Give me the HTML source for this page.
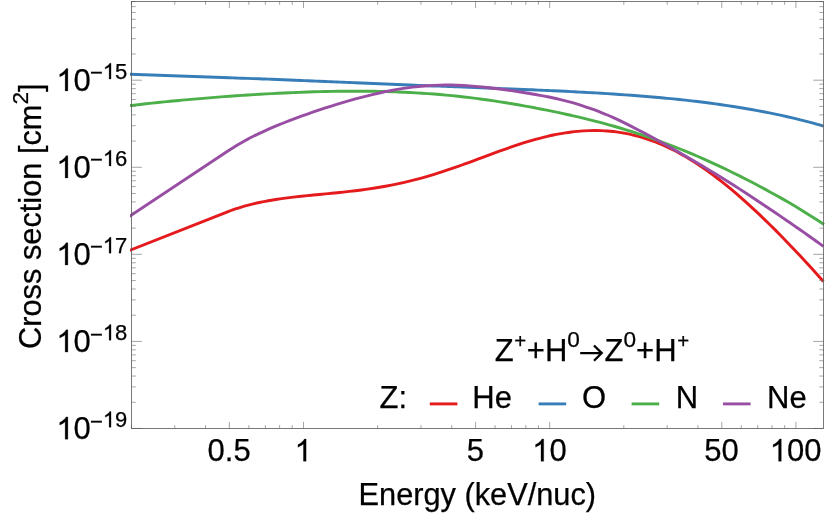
<!DOCTYPE html><html><head><title>Cross section vs Energy</title><meta charset="utf-8"><style>html,body{margin:0;padding:0;background:#fff}svg{display:block;will-change:transform}text{font-family:"Liberation Sans",sans-serif;fill:#000;stroke:#000;stroke-width:0.25px}.g1{stroke:#000;stroke-width:0.25px;vector-effect:non-scaling-stroke}</style></head><body>
<svg width="830" height="513" viewBox="0 0 830 513">
<rect width="830" height="513" fill="#fff"/>
<defs><clipPath id="c"><rect x="130.0" y="1.4" width="695.1" height="427.1"/></clipPath></defs>
<g fill="none" stroke-width="2.90" stroke-linejoin="round" clip-path="url(#c)">
<path d="M128.00 251.02L229.40 211.04 C230.40 210.69 233.40 209.62 235.40 208.96 C237.40 208.29 239.40 207.67 241.40 207.07 C243.40 206.47 245.40 205.91 247.40 205.38 C249.40 204.85 251.40 204.35 253.40 203.87 C255.40 203.40 257.40 202.95 259.40 202.53 C261.40 202.10 263.40 201.70 265.40 201.32 C267.40 200.94 269.40 200.59 271.40 200.25 C273.40 199.91 275.40 199.59 277.40 199.29 C279.40 198.98 281.40 198.70 283.40 198.42 C285.40 198.15 287.40 197.89 289.40 197.64 C291.40 197.39 293.40 197.15 295.40 196.92 C297.40 196.69 299.40 196.47 301.40 196.26 C303.40 196.04 305.40 195.84 307.40 195.64 C309.40 195.43 311.40 195.24 313.40 195.04 C315.40 194.85 317.40 194.65 319.40 194.46 C321.40 194.27 323.40 194.08 325.40 193.89 C327.40 193.70 329.40 193.50 331.40 193.31 C333.40 193.11 335.40 192.91 337.40 192.71 C339.40 192.50 341.40 192.30 343.40 192.08 C345.40 191.87 347.40 191.65 349.40 191.42 C351.40 191.19 353.40 190.96 355.40 190.71 C357.40 190.47 359.40 190.22 361.40 189.95 C363.40 189.69 365.40 189.42 367.40 189.13 C369.40 188.85 371.40 188.55 373.40 188.24 C375.40 187.93 377.40 187.61 379.40 187.28 C381.40 186.95 383.40 186.60 385.40 186.24 C387.40 185.87 389.40 185.50 391.40 185.11 C393.40 184.71 395.40 184.31 397.40 183.89 C399.40 183.46 401.40 183.03 403.40 182.57 C405.40 182.12 407.40 181.65 409.40 181.16 C411.40 180.67 413.40 180.17 415.40 179.65 C417.40 179.13 419.40 178.60 421.40 178.05 C423.40 177.50 425.40 176.93 427.40 176.35 C429.40 175.77 431.40 175.17 433.40 174.56 C435.40 173.95 437.40 173.32 439.40 172.68 C441.40 172.05 443.40 171.39 445.40 170.73 C447.40 170.06 449.40 169.39 451.40 168.70 C453.40 168.01 455.40 167.31 457.40 166.61 C459.40 165.90 461.40 165.18 463.40 164.46 C465.40 163.74 467.40 163.01 469.40 162.27 C471.40 161.54 473.40 160.80 475.40 160.06 C477.40 159.32 479.40 158.57 481.40 157.83 C483.40 157.08 485.40 156.34 487.40 155.60 C489.40 154.86 491.40 154.11 493.40 153.38 C495.40 152.64 497.40 151.91 499.40 151.19 C501.40 150.47 503.40 149.75 505.40 149.04 C507.40 148.33 509.40 147.63 511.40 146.95 C513.40 146.26 515.40 145.58 517.40 144.92 C519.40 144.26 521.40 143.61 523.40 142.98 C525.40 142.35 527.40 141.74 529.40 141.14 C531.40 140.55 533.40 139.97 535.40 139.41 C537.40 138.86 539.40 138.32 541.40 137.81 C543.40 137.29 545.40 136.80 547.40 136.33 C549.40 135.87 551.40 135.42 553.40 135.01 C555.40 134.59 557.40 134.20 559.40 133.83 C561.40 133.47 563.40 133.13 565.40 132.83 C567.40 132.52 569.40 132.24 571.40 131.99 C573.40 131.74 575.40 131.52 577.40 131.33 C579.40 131.15 581.40 130.99 583.40 130.86 C585.40 130.74 587.40 130.65 589.40 130.59 C591.40 130.53 593.40 130.51 595.40 130.52 C597.40 130.53 599.40 130.57 601.40 130.65 C603.40 130.73 605.40 130.84 607.40 131.00 C609.40 131.15 611.40 131.34 613.40 131.56 C615.40 131.79 617.40 132.05 619.40 132.35 C621.40 132.66 623.40 132.99 625.40 133.37 C627.40 133.75 629.40 134.17 631.40 134.63 C633.40 135.08 635.40 135.58 637.40 136.11 C639.40 136.65 641.40 137.23 643.40 137.84 C645.40 138.46 647.40 139.11 649.40 139.81 C651.40 140.50 653.40 141.24 655.40 142.02 C657.40 142.79 659.40 143.61 661.40 144.46 C663.40 145.32 665.40 146.22 667.40 147.15 C669.40 148.09 671.40 149.06 673.40 150.07 C675.40 151.09 677.40 152.14 679.40 153.23 C681.40 154.32 683.40 155.45 685.40 156.62 C687.40 157.78 689.40 158.99 691.40 160.22 C693.40 161.46 695.40 162.74 697.40 164.05 C699.40 165.36 701.40 166.71 703.40 168.09 C705.40 169.47 707.40 170.89 709.40 172.34 C711.40 173.78 713.40 175.27 715.40 176.78 C717.40 178.29 719.40 179.83 721.40 181.40 C723.40 182.98 725.40 184.58 727.40 186.21 C729.40 187.84 731.40 189.50 733.40 191.19 C735.40 192.88 737.40 194.59 739.40 196.33 C741.40 198.07 743.40 199.84 745.40 201.63 C747.40 203.41 749.40 205.23 751.40 207.07 C753.40 208.90 755.40 210.77 757.40 212.65 C759.40 214.53 761.40 216.43 763.40 218.36 C765.40 220.28 767.40 222.23 769.40 224.19 C771.40 226.16 773.40 228.14 775.40 230.15 C777.40 232.15 779.40 234.17 781.40 236.21 C783.40 238.25 785.40 240.31 787.40 242.39 C789.40 244.46 791.40 246.55 793.40 248.66 C795.40 250.77 797.40 252.90 799.40 255.04 C801.40 257.18 803.40 259.34 805.40 261.51 C807.40 263.68 809.40 265.87 811.40 268.08 C813.40 270.28 815.40 272.50 817.40 274.74 C819.40 276.97 822.40 280.37 823.40 281.49" stroke="#e41a1c"/>
<path d="M128.00 74.25L229.40 77.79 C230.40 77.82 233.40 77.92 235.40 77.99 C237.40 78.05 239.40 78.12 241.40 78.18 C243.40 78.25 245.40 78.32 247.40 78.39 C249.40 78.46 251.40 78.53 253.40 78.60 C255.40 78.68 257.40 78.75 259.40 78.82 C261.40 78.90 263.40 78.97 265.40 79.05 C267.40 79.13 269.40 79.20 271.40 79.28 C273.40 79.36 275.40 79.44 277.40 79.52 C279.40 79.60 281.40 79.68 283.40 79.76 C285.40 79.84 287.40 79.92 289.40 80.00 C291.40 80.08 293.40 80.16 295.40 80.24 C297.40 80.33 299.40 80.41 301.40 80.49 C303.40 80.57 305.40 80.66 307.40 80.74 C309.40 80.83 311.40 80.91 313.40 80.99 C315.40 81.08 317.40 81.16 319.40 81.25 C321.40 81.33 323.40 81.41 325.40 81.50 C327.40 81.58 329.40 81.67 331.40 81.75 C333.40 81.84 335.40 81.92 337.40 82.01 C339.40 82.09 341.40 82.18 343.40 82.26 C345.40 82.34 347.40 82.43 349.40 82.51 C351.40 82.60 353.40 82.68 355.40 82.77 C357.40 82.85 359.40 82.93 361.40 83.02 C363.40 83.10 365.40 83.18 367.40 83.27 C369.40 83.35 371.40 83.43 373.40 83.52 C375.40 83.60 377.40 83.68 379.40 83.76 C381.40 83.85 383.40 83.93 385.40 84.01 C387.40 84.09 389.40 84.17 391.40 84.26 C393.40 84.34 395.40 84.42 397.40 84.50 C399.40 84.58 401.40 84.66 403.40 84.74 C405.40 84.82 407.40 84.90 409.40 84.98 C411.40 85.06 413.40 85.14 415.40 85.22 C417.40 85.30 419.40 85.38 421.40 85.46 C423.40 85.53 425.40 85.61 427.40 85.69 C429.40 85.77 431.40 85.85 433.40 85.93 C435.40 86.00 437.40 86.08 439.40 86.16 C441.40 86.24 443.40 86.31 445.40 86.39 C447.40 86.47 449.40 86.54 451.40 86.62 C453.40 86.70 455.40 86.77 457.40 86.85 C459.40 86.93 461.40 87.01 463.40 87.08 C465.40 87.16 467.40 87.24 469.40 87.31 C471.40 87.39 473.40 87.47 475.40 87.54 C477.40 87.62 479.40 87.70 481.40 87.77 C483.40 87.85 485.40 87.93 487.40 88.01 C489.40 88.08 491.40 88.16 493.40 88.24 C495.40 88.32 497.40 88.40 499.40 88.47 C501.40 88.55 503.40 88.63 505.40 88.71 C507.40 88.79 509.40 88.87 511.40 88.95 C513.40 89.03 515.40 89.11 517.40 89.20 C519.40 89.28 521.40 89.36 523.40 89.44 C525.40 89.53 527.40 89.61 529.40 89.69 C531.40 89.78 533.40 89.86 535.40 89.95 C537.40 90.04 539.40 90.12 541.40 90.21 C543.40 90.30 545.40 90.39 547.40 90.48 C549.40 90.57 551.40 90.66 553.40 90.75 C555.40 90.85 557.40 90.94 559.40 91.03 C561.40 91.13 563.40 91.23 565.40 91.32 C567.40 91.42 569.40 91.52 571.40 91.62 C573.40 91.72 575.40 91.83 577.40 91.93 C579.40 92.04 581.40 92.14 583.40 92.25 C585.40 92.36 587.40 92.47 589.40 92.58 C591.40 92.69 593.40 92.81 595.40 92.92 C597.40 93.04 599.40 93.16 601.40 93.28 C603.40 93.40 605.40 93.52 607.40 93.65 C609.40 93.77 611.40 93.90 613.40 94.03 C615.40 94.16 617.40 94.29 619.40 94.43 C621.40 94.56 623.40 94.70 625.40 94.85 C627.40 94.99 629.40 95.13 631.40 95.28 C633.40 95.43 635.40 95.58 637.40 95.73 C639.40 95.89 641.40 96.04 643.40 96.20 C645.40 96.37 647.40 96.53 649.40 96.70 C651.40 96.87 653.40 97.04 655.40 97.21 C657.40 97.39 659.40 97.57 661.40 97.75 C663.40 97.94 665.40 98.12 667.40 98.32 C669.40 98.51 671.40 98.70 673.40 98.91 C675.40 99.11 677.40 99.31 679.40 99.52 C681.40 99.73 683.40 99.95 685.40 100.17 C687.40 100.38 689.40 100.61 691.40 100.84 C693.40 101.07 695.40 101.30 697.40 101.54 C699.40 101.78 701.40 102.03 703.40 102.28 C705.40 102.53 707.40 102.79 709.40 103.05 C711.40 103.31 713.40 103.58 715.40 103.85 C717.40 104.13 719.40 104.41 721.40 104.69 C723.40 104.98 725.40 105.27 727.40 105.57 C729.40 105.87 731.40 106.18 733.40 106.49 C735.40 106.80 737.40 107.12 739.40 107.45 C741.40 107.77 743.40 108.11 745.40 108.45 C747.40 108.79 749.40 109.13 751.40 109.49 C753.40 109.85 755.40 110.21 757.40 110.58 C759.40 110.95 761.40 111.33 763.40 111.72 C765.40 112.10 767.40 112.50 769.40 112.90 C771.40 113.30 773.40 113.71 775.40 114.13 C777.40 114.55 779.40 114.98 781.40 115.42 C783.40 115.86 785.40 116.31 787.40 116.76 C789.40 117.22 791.40 117.68 793.40 118.16 C795.40 118.63 797.40 119.12 799.40 119.61 C801.40 120.10 803.40 120.61 805.40 121.12 C807.40 121.64 809.40 122.16 811.40 122.69 C813.40 123.23 815.40 123.77 817.40 124.33 C819.40 124.89 822.40 125.75 823.40 126.03" stroke="#377eb8"/>
<path d="M128.00 105.80 C129.00 105.69 132.00 105.34 134.00 105.11 C136.00 104.88 138.00 104.66 140.00 104.44 C142.00 104.22 144.00 104.00 146.00 103.78 C148.00 103.56 150.00 103.35 152.00 103.14 C154.00 102.93 156.00 102.72 158.00 102.51 C160.00 102.31 162.00 102.11 164.00 101.91 C166.00 101.71 168.00 101.51 170.00 101.31 C172.00 101.12 174.00 100.92 176.00 100.73 C178.00 100.54 180.00 100.36 182.00 100.17 C184.00 99.99 186.00 99.81 188.00 99.63 C190.00 99.45 192.00 99.27 194.00 99.09 C196.00 98.92 198.00 98.75 200.00 98.58 C202.00 98.41 204.00 98.24 206.00 98.07 C208.00 97.91 210.00 97.75 212.00 97.59 C214.00 97.43 216.00 97.27 218.00 97.12 C220.00 96.96 222.00 96.81 224.00 96.66 C226.00 96.51 228.00 96.36 230.00 96.22 C232.00 96.07 234.00 95.93 236.00 95.79 C238.00 95.65 240.00 95.51 242.00 95.38 C244.00 95.25 246.00 95.11 248.00 94.99 C250.00 94.86 252.00 94.73 254.00 94.61 C256.00 94.48 258.00 94.36 260.00 94.25 C262.00 94.13 264.00 94.01 266.00 93.90 C268.00 93.79 270.00 93.68 272.00 93.58 C274.00 93.47 276.00 93.37 278.00 93.27 C280.00 93.17 282.00 93.07 284.00 92.98 C286.00 92.88 288.00 92.79 290.00 92.70 C292.00 92.62 294.00 92.53 296.00 92.45 C298.00 92.37 300.00 92.30 302.00 92.22 C304.00 92.15 306.00 92.08 308.00 92.01 C310.00 91.94 312.00 91.88 314.00 91.82 C316.00 91.76 318.00 91.71 320.00 91.66 C322.00 91.61 324.00 91.56 326.00 91.51 C328.00 91.47 330.00 91.43 332.00 91.39 C334.00 91.36 336.00 91.33 338.00 91.30 C340.00 91.27 342.00 91.25 344.00 91.23 C346.00 91.21 348.00 91.20 350.00 91.19 C352.00 91.18 354.00 91.18 356.00 91.18 C358.00 91.18 360.00 91.18 362.00 91.20 C364.00 91.21 366.00 91.22 368.00 91.24 C370.00 91.26 372.00 91.29 374.00 91.32 C376.00 91.35 378.00 91.39 380.00 91.43 C382.00 91.47 384.00 91.52 386.00 91.57 C388.00 91.62 390.00 91.68 392.00 91.75 C394.00 91.81 396.00 91.89 398.00 91.96 C400.00 92.04 402.00 92.12 404.00 92.21 C406.00 92.30 408.00 92.40 410.00 92.50 C412.00 92.61 414.00 92.72 416.00 92.83 C418.00 92.95 420.00 93.07 422.00 93.20 C424.00 93.33 426.00 93.47 428.00 93.61 C430.00 93.76 432.00 93.91 434.00 94.07 C436.00 94.22 438.00 94.39 440.00 94.56 C442.00 94.73 444.00 94.91 446.00 95.10 C448.00 95.28 450.00 95.47 452.00 95.67 C454.00 95.87 456.00 96.08 458.00 96.30 C460.00 96.51 462.00 96.73 464.00 96.96 C466.00 97.19 468.00 97.42 470.00 97.67 C472.00 97.91 474.00 98.16 476.00 98.41 C478.00 98.67 480.00 98.93 482.00 99.20 C484.00 99.48 486.00 99.75 488.00 100.04 C490.00 100.32 492.00 100.61 494.00 100.91 C496.00 101.21 498.00 101.51 500.00 101.82 C502.00 102.13 504.00 102.45 506.00 102.77 C508.00 103.09 510.00 103.42 512.00 103.76 C514.00 104.10 516.00 104.44 518.00 104.79 C520.00 105.13 522.00 105.49 524.00 105.85 C526.00 106.21 528.00 106.57 530.00 106.94 C532.00 107.31 534.00 107.69 536.00 108.07 C538.00 108.45 540.00 108.84 542.00 109.23 C544.00 109.63 546.00 110.02 548.00 110.43 C550.00 110.83 552.00 111.24 554.00 111.66 C556.00 112.07 558.00 112.49 560.00 112.92 C562.00 113.35 564.00 113.78 566.00 114.22 C568.00 114.66 570.00 115.11 572.00 115.56 C574.00 116.01 576.00 116.47 578.00 116.94 C580.00 117.41 582.00 117.88 584.00 118.36 C586.00 118.84 588.00 119.33 590.00 119.83 C592.00 120.33 594.00 120.84 596.00 121.35 C598.00 121.87 600.00 122.39 602.00 122.93 C604.00 123.46 606.00 124.00 608.00 124.56 C610.00 125.11 612.00 125.67 614.00 126.24 C616.00 126.81 618.00 127.40 620.00 127.99 C622.00 128.58 624.00 129.19 626.00 129.80 C628.00 130.41 630.00 131.04 632.00 131.67 C634.00 132.31 636.00 132.95 638.00 133.61 C640.00 134.26 642.00 134.93 644.00 135.61 C646.00 136.29 648.00 136.97 650.00 137.67 C652.00 138.37 654.00 139.09 656.00 139.81 C658.00 140.53 660.00 141.26 662.00 142.01 C664.00 142.75 666.00 143.50 668.00 144.27 C670.00 145.04 672.00 145.81 674.00 146.60 C676.00 147.39 678.00 148.18 680.00 148.99 C682.00 149.80 684.00 150.62 686.00 151.45 C688.00 152.28 690.00 153.12 692.00 153.96 C694.00 154.81 696.00 155.67 698.00 156.54 C700.00 157.41 702.00 158.29 704.00 159.18 C706.00 160.07 708.00 160.96 710.00 161.87 C712.00 162.78 714.00 163.69 716.00 164.62 C718.00 165.55 720.00 166.48 722.00 167.43 C724.00 168.37 726.00 169.32 728.00 170.29 C730.00 171.25 732.00 172.22 734.00 173.20 C736.00 174.18 738.00 175.17 740.00 176.17 C742.00 177.17 744.00 178.18 746.00 179.20 C748.00 180.22 750.00 181.25 752.00 182.29 C754.00 183.33 756.00 184.37 758.00 185.43 C760.00 186.49 762.00 187.56 764.00 188.64 C766.00 189.71 768.00 190.80 770.00 191.90 C772.00 193.00 774.00 194.11 776.00 195.23 C778.00 196.35 780.00 197.48 782.00 198.62 C784.00 199.77 786.00 200.92 788.00 202.08 C790.00 203.25 792.00 204.43 794.00 205.62 C796.00 206.81 798.00 208.01 800.00 209.22 C802.00 210.44 804.00 211.67 806.00 212.91 C808.00 214.15 810.00 215.40 812.00 216.67 C814.00 217.94 816.00 219.22 818.00 220.52 C820.00 221.82 823.00 223.80 824.00 224.46" stroke="#4daf4a"/>
<path d="M128.00 217.42L229.40 149.98 C230.40 149.35 233.40 147.41 235.40 146.19 C237.40 144.97 239.40 143.80 241.40 142.66 C243.40 141.52 245.40 140.42 247.40 139.36 C249.40 138.29 251.40 137.26 253.40 136.26 C255.40 135.26 257.40 134.29 259.40 133.34 C261.40 132.39 263.40 131.47 265.40 130.57 C267.40 129.67 269.40 128.79 271.40 127.93 C273.40 127.08 275.40 126.24 277.40 125.42 C279.40 124.59 281.40 123.79 283.40 122.99 C285.40 122.20 287.40 121.43 289.40 120.66 C291.40 119.89 293.40 119.14 295.40 118.40 C297.40 117.66 299.40 116.92 301.40 116.20 C303.40 115.48 305.40 114.77 307.40 114.06 C309.40 113.36 311.40 112.67 313.40 111.98 C315.40 111.30 317.40 110.62 319.40 109.95 C321.40 109.28 323.40 108.62 325.40 107.97 C327.40 107.32 329.40 106.68 331.40 106.05 C333.40 105.42 335.40 104.80 337.40 104.18 C339.40 103.57 341.40 102.97 343.40 102.38 C345.40 101.78 347.40 101.20 349.40 100.63 C351.40 100.06 353.40 99.50 355.40 98.95 C357.40 98.40 359.40 97.87 361.40 97.34 C363.40 96.82 365.40 96.31 367.40 95.81 C369.40 95.31 371.40 94.82 373.40 94.35 C375.40 93.88 377.40 93.42 379.40 92.97 C381.40 92.53 383.40 92.10 385.40 91.69 C387.40 91.28 389.40 90.88 391.40 90.50 C393.40 90.12 395.40 89.76 397.40 89.41 C399.40 89.07 401.40 88.74 403.40 88.43 C405.40 88.13 407.40 87.84 409.40 87.57 C411.40 87.30 413.40 87.05 415.40 86.83 C417.40 86.60 419.40 86.39 421.40 86.21 C423.40 86.03 425.40 85.86 427.40 85.72 C429.40 85.58 431.40 85.46 433.40 85.36 C435.40 85.27 437.40 85.19 439.40 85.13 C441.40 85.08 443.40 85.05 445.40 85.03 C447.40 85.02 449.40 85.03 451.40 85.06 C453.40 85.09 455.40 85.14 457.40 85.21 C459.40 85.28 461.40 85.37 463.40 85.47 C465.40 85.58 467.40 85.70 469.40 85.84 C471.40 85.98 473.40 86.14 475.40 86.32 C477.40 86.49 479.40 86.68 481.40 86.88 C483.40 87.08 485.40 87.30 487.40 87.52 C489.40 87.75 491.40 87.99 493.40 88.23 C495.40 88.48 497.40 88.73 499.40 89.00 C501.40 89.26 503.40 89.53 505.40 89.81 C507.40 90.08 509.40 90.37 511.40 90.66 C513.40 90.95 515.40 91.24 517.40 91.55 C519.40 91.85 521.40 92.16 523.40 92.48 C525.40 92.80 527.40 93.12 529.40 93.45 C531.40 93.79 533.40 94.13 535.40 94.48 C537.40 94.84 539.40 95.20 541.40 95.58 C543.40 95.95 545.40 96.34 547.40 96.75 C549.40 97.15 551.40 97.57 553.40 98.01 C555.40 98.44 557.40 98.90 559.40 99.37 C561.40 99.84 563.40 100.33 565.40 100.85 C567.40 101.36 569.40 101.89 571.40 102.45 C573.40 103.00 575.40 103.58 577.40 104.18 C579.40 104.78 581.40 105.40 583.40 106.05 C585.40 106.69 587.40 107.37 589.40 108.06 C591.40 108.76 593.40 109.48 595.40 110.23 C597.40 110.98 599.40 111.75 601.40 112.55 C603.40 113.35 605.40 114.18 607.40 115.03 C609.40 115.88 611.40 116.76 613.40 117.66 C615.40 118.56 617.40 119.49 619.40 120.43 C621.40 121.38 623.40 122.35 625.40 123.33 C627.40 124.31 629.40 125.32 631.40 126.33 C633.40 127.35 635.40 128.38 637.40 129.42 C639.40 130.46 641.40 131.52 643.40 132.59 C645.40 133.65 647.40 134.73 649.40 135.81 C651.40 136.90 653.40 137.99 655.40 139.09 C657.40 140.19 659.40 141.29 661.40 142.40 C663.40 143.52 665.40 144.63 667.40 145.76 C669.40 146.88 671.40 148.01 673.40 149.14 C675.40 150.27 677.40 151.41 679.40 152.55 C681.40 153.70 683.40 154.84 685.40 156.00 C687.40 157.15 689.40 158.31 691.40 159.47 C693.40 160.64 695.40 161.81 697.40 162.99 C699.40 164.17 701.40 165.35 703.40 166.55 C705.40 167.74 707.40 168.94 709.40 170.15 C711.40 171.36 713.40 172.57 715.40 173.80 C717.40 175.02 719.40 176.25 721.40 177.49 C723.40 178.73 725.40 179.98 727.40 181.24 C729.40 182.50 731.40 183.76 733.40 185.04 C735.40 186.31 737.40 187.59 739.40 188.88 C741.40 190.17 743.40 191.47 745.40 192.77 C747.40 194.08 749.40 195.39 751.40 196.71 C753.40 198.03 755.40 199.35 757.40 200.68 C759.40 202.02 761.40 203.35 763.40 204.69 C765.40 206.04 767.40 207.38 769.40 208.73 C771.40 210.09 773.40 211.44 775.40 212.80 C777.40 214.16 779.40 215.52 781.40 216.89 C783.40 218.25 785.40 219.62 787.40 220.99 C789.40 222.37 791.40 223.74 793.40 225.12 C795.40 226.51 797.40 227.89 799.40 229.28 C801.40 230.67 803.40 232.07 805.40 233.47 C807.40 234.88 809.40 236.29 811.40 237.71 C813.40 239.13 815.40 240.55 817.40 241.99 C819.40 243.43 822.40 245.62 823.40 246.35" stroke="#984ea3"/>
</g>
<path d="M131.50 428.48h10.40M823.60 428.48h-10.40M131.50 402.27h4.30M823.60 402.27h-4.30M131.50 386.94h4.30M823.60 386.94h-4.30M131.50 376.06h4.30M823.60 376.06h-4.30M131.50 367.62h4.30M823.60 367.62h-4.30M131.50 360.73h4.30M823.60 360.73h-4.30M131.50 354.90h4.30M823.60 354.90h-4.30M131.50 349.85h4.30M823.60 349.85h-4.30M131.50 345.39h4.30M823.60 345.39h-4.30M131.50 341.41h10.40M823.60 341.41h-10.40M131.50 315.20h4.30M823.60 315.20h-4.30M131.50 299.87h4.30M823.60 299.87h-4.30M131.50 288.99h4.30M823.60 288.99h-4.30M131.50 280.55h4.30M823.60 280.55h-4.30M131.50 273.66h4.30M823.60 273.66h-4.30M131.50 267.83h4.30M823.60 267.83h-4.30M131.50 262.78h4.30M823.60 262.78h-4.30M131.50 258.32h4.30M823.60 258.32h-4.30M131.50 254.34h10.40M823.60 254.34h-10.40M131.50 228.13h4.30M823.60 228.13h-4.30M131.50 212.80h4.30M823.60 212.80h-4.30M131.50 201.92h4.30M823.60 201.92h-4.30M131.50 193.48h4.30M823.60 193.48h-4.30M131.50 186.59h4.30M823.60 186.59h-4.30M131.50 180.76h4.30M823.60 180.76h-4.30M131.50 175.71h4.30M823.60 175.71h-4.30M131.50 171.25h4.30M823.60 171.25h-4.30M131.50 167.27h10.40M823.60 167.27h-10.40M131.50 141.06h4.30M823.60 141.06h-4.30M131.50 125.73h4.30M823.60 125.73h-4.30M131.50 114.85h4.30M823.60 114.85h-4.30M131.50 106.41h4.30M823.60 106.41h-4.30M131.50 99.52h4.30M823.60 99.52h-4.30M131.50 93.69h4.30M823.60 93.69h-4.30M131.50 88.64h4.30M823.60 88.64h-4.30M131.50 84.18h4.30M823.60 84.18h-4.30M131.50 80.20h10.40M823.60 80.20h-10.40M131.50 53.99h4.30M823.60 53.99h-4.30M131.50 38.66h4.30M823.60 38.66h-4.30M131.50 27.78h4.30M823.60 27.78h-4.30M131.50 19.34h4.30M823.60 19.34h-4.30M131.50 12.45h4.30M823.60 12.45h-4.30M131.50 6.62h4.30M823.60 6.62h-4.30M131.50 1.57h4.30M823.60 1.57h-4.30M131.41 428.50v-3.40M131.41 1.40v3.40M174.77 428.50v-3.40M174.77 1.40v3.40M205.53 428.50v-3.40M205.53 1.40v3.40M229.39 428.50v-6.60M229.39 1.40v6.60M248.88 428.50v-3.40M248.88 1.40v3.40M265.36 428.50v-3.40M265.36 1.40v3.40M279.64 428.50v-3.40M279.64 1.40v3.40M292.23 428.50v-3.40M292.23 1.40v3.40M303.50 428.50v-6.60M303.50 1.40v6.60M377.61 428.50v-3.40M377.61 1.40v3.40M420.97 428.50v-3.40M420.97 1.40v3.40M451.73 428.50v-3.40M451.73 1.40v3.40M475.59 428.50v-6.60M475.59 1.40v6.60M495.08 428.50v-3.40M495.08 1.40v3.40M511.56 428.50v-3.40M511.56 1.40v3.40M525.84 428.50v-3.40M525.84 1.40v3.40M538.43 428.50v-3.40M538.43 1.40v3.40M549.70 428.50v-6.60M549.70 1.40v6.60M623.81 428.50v-3.40M623.81 1.40v3.40M667.17 428.50v-3.40M667.17 1.40v3.40M697.93 428.50v-3.40M697.93 1.40v3.40M721.79 428.50v-6.60M721.79 1.40v6.60M741.28 428.50v-3.40M741.28 1.40v3.40M757.76 428.50v-3.40M757.76 1.40v3.40M772.04 428.50v-3.40M772.04 1.40v3.40M784.63 428.50v-3.40M784.63 1.40v3.40M795.90 428.50v-6.60M795.90 1.40v6.60" stroke="#6a6a6a" stroke-width="0.6" fill="none"/>
<rect x="131.50" y="1.40" width="692.10" height="427.10" fill="none" stroke="#585858" stroke-width="0.8"/>
<path class="g1" transform="translate(56.32,439.18) scale(0.01514,-0.01514)" d="M763 0H583V1147Q518 1085 412.5 1023T223 930V1104Q374 1175 487 1276T647 1472H763Z"/>
<text x="73.55" y="439.18" font-size="31.00">0</text>
<text x="89.99" y="428.58" font-size="22.00">−</text>
<path class="g1" transform="translate(102.84,427.28) scale(0.01074,-0.01074)" d="M763 0H583V1147Q518 1085 412.5 1023T223 930V1104Q374 1175 487 1276T647 1472H763Z"/>
<text x="115.07" y="427.28" font-size="22.00">9</text>
<path class="g1" transform="translate(56.32,352.11) scale(0.01514,-0.01514)" d="M763 0H583V1147Q518 1085 412.5 1023T223 930V1104Q374 1175 487 1276T647 1472H763Z"/>
<text x="73.55" y="352.11" font-size="31.00">0</text>
<text x="89.99" y="341.51" font-size="22.00">−</text>
<path class="g1" transform="translate(102.84,340.21) scale(0.01074,-0.01074)" d="M763 0H583V1147Q518 1085 412.5 1023T223 930V1104Q374 1175 487 1276T647 1472H763Z"/>
<text x="115.07" y="340.21" font-size="22.00">8</text>
<path class="g1" transform="translate(56.32,265.04) scale(0.01514,-0.01514)" d="M763 0H583V1147Q518 1085 412.5 1023T223 930V1104Q374 1175 487 1276T647 1472H763Z"/>
<text x="73.55" y="265.04" font-size="31.00">0</text>
<text x="89.99" y="254.44" font-size="22.00">−</text>
<path class="g1" transform="translate(102.84,253.14) scale(0.01074,-0.01074)" d="M763 0H583V1147Q518 1085 412.5 1023T223 930V1104Q374 1175 487 1276T647 1472H763Z"/>
<text x="115.07" y="253.14" font-size="22.00">7</text>
<path class="g1" transform="translate(56.32,177.97) scale(0.01514,-0.01514)" d="M763 0H583V1147Q518 1085 412.5 1023T223 930V1104Q374 1175 487 1276T647 1472H763Z"/>
<text x="73.55" y="177.97" font-size="31.00">0</text>
<text x="89.99" y="167.37" font-size="22.00">−</text>
<path class="g1" transform="translate(102.84,166.07) scale(0.01074,-0.01074)" d="M763 0H583V1147Q518 1085 412.5 1023T223 930V1104Q374 1175 487 1276T647 1472H763Z"/>
<text x="115.07" y="166.07" font-size="22.00">6</text>
<path class="g1" transform="translate(56.32,90.90) scale(0.01514,-0.01514)" d="M763 0H583V1147Q518 1085 412.5 1023T223 930V1104Q374 1175 487 1276T647 1472H763Z"/>
<text x="73.55" y="90.90" font-size="31.00">0</text>
<text x="89.99" y="80.30" font-size="22.00">−</text>
<path class="g1" transform="translate(102.84,79.00) scale(0.01074,-0.01074)" d="M763 0H583V1147Q518 1085 412.5 1023T223 930V1104Q374 1175 487 1276T647 1472H763Z"/>
<text x="115.07" y="79.00" font-size="22.00">5</text>
<text x="207.54" y="461.30" font-size="31.00">0.5</text>
<path class="g1" transform="translate(294.58,461.30) scale(0.01514,-0.01514)" d="M763 0H583V1147Q518 1085 412.5 1023T223 930V1104Q374 1175 487 1276T647 1472H763Z"/>
<text x="466.67" y="461.30" font-size="31.00">5</text>
<path class="g1" transform="translate(532.16,461.30) scale(0.01514,-0.01514)" d="M763 0H583V1147Q518 1085 412.5 1023T223 930V1104Q374 1175 487 1276T647 1472H763Z"/>
<text x="549.40" y="461.30" font-size="31.00">0</text>
<text x="704.25" y="461.30" font-size="31.00">50</text>
<path class="g1" transform="translate(769.75,461.30) scale(0.01514,-0.01514)" d="M763 0H583V1147Q518 1085 412.5 1023T223 930V1104Q374 1175 487 1276T647 1472H763Z"/>
<text x="786.98" y="461.30" font-size="31.00">00</text>
<text x="477.3" y="504.8" text-anchor="middle" font-size="30.75">Energy (keV/nuc)</text>
<text transform="translate(40.7,216.2) rotate(-90)" text-anchor="middle" font-size="30.75">Cross section [cm<tspan font-size="22.6" dy="-13.1">2</tspan><tspan dy="13.1">]</tspan></text>
<text x="494.7" y="360.9" font-size="31">Z<tspan font-size="20.5" dy="-13.1" dx="0.6">+</tspan><tspan dy="13.1" dx="0.6">+H</tspan><tspan font-size="22.6" dy="-13.6">0</tspan></text>
<path d="M580.2 353.1H601.2M594.0 345.5L601.7 353.1L594.0 360.7" fill="none" stroke="#000" stroke-width="2.3"/>
<text x="604.6" y="360.9" font-size="31">Z<tspan font-size="22.6" dy="-13.6">0</tspan><tspan dy="13.6">+H</tspan><tspan font-size="20.5" dy="-13.1" dx="0.6">+</tspan></text>
<text x="379.5" y="408.1" font-size="31">Z:</text>
<path d="M429.8 403.9h27.6" stroke="#e41a1c" stroke-width="2.90" fill="none"/>
<text x="472.3" y="408.1" font-size="31">He</text>
<path d="M538.6 403.9h27.6" stroke="#377eb8" stroke-width="2.90" fill="none"/>
<text x="582.0" y="408.1" font-size="31">O</text>
<path d="M631.6 403.9h27.6" stroke="#4daf4a" stroke-width="2.90" fill="none"/>
<text x="675.7" y="408.1" font-size="31">N</text>
<path d="M723.0 403.9h27.6" stroke="#984ea3" stroke-width="2.90" fill="none"/>
<text x="767.1" y="408.1" font-size="31">Ne</text>
</svg></body></html>
